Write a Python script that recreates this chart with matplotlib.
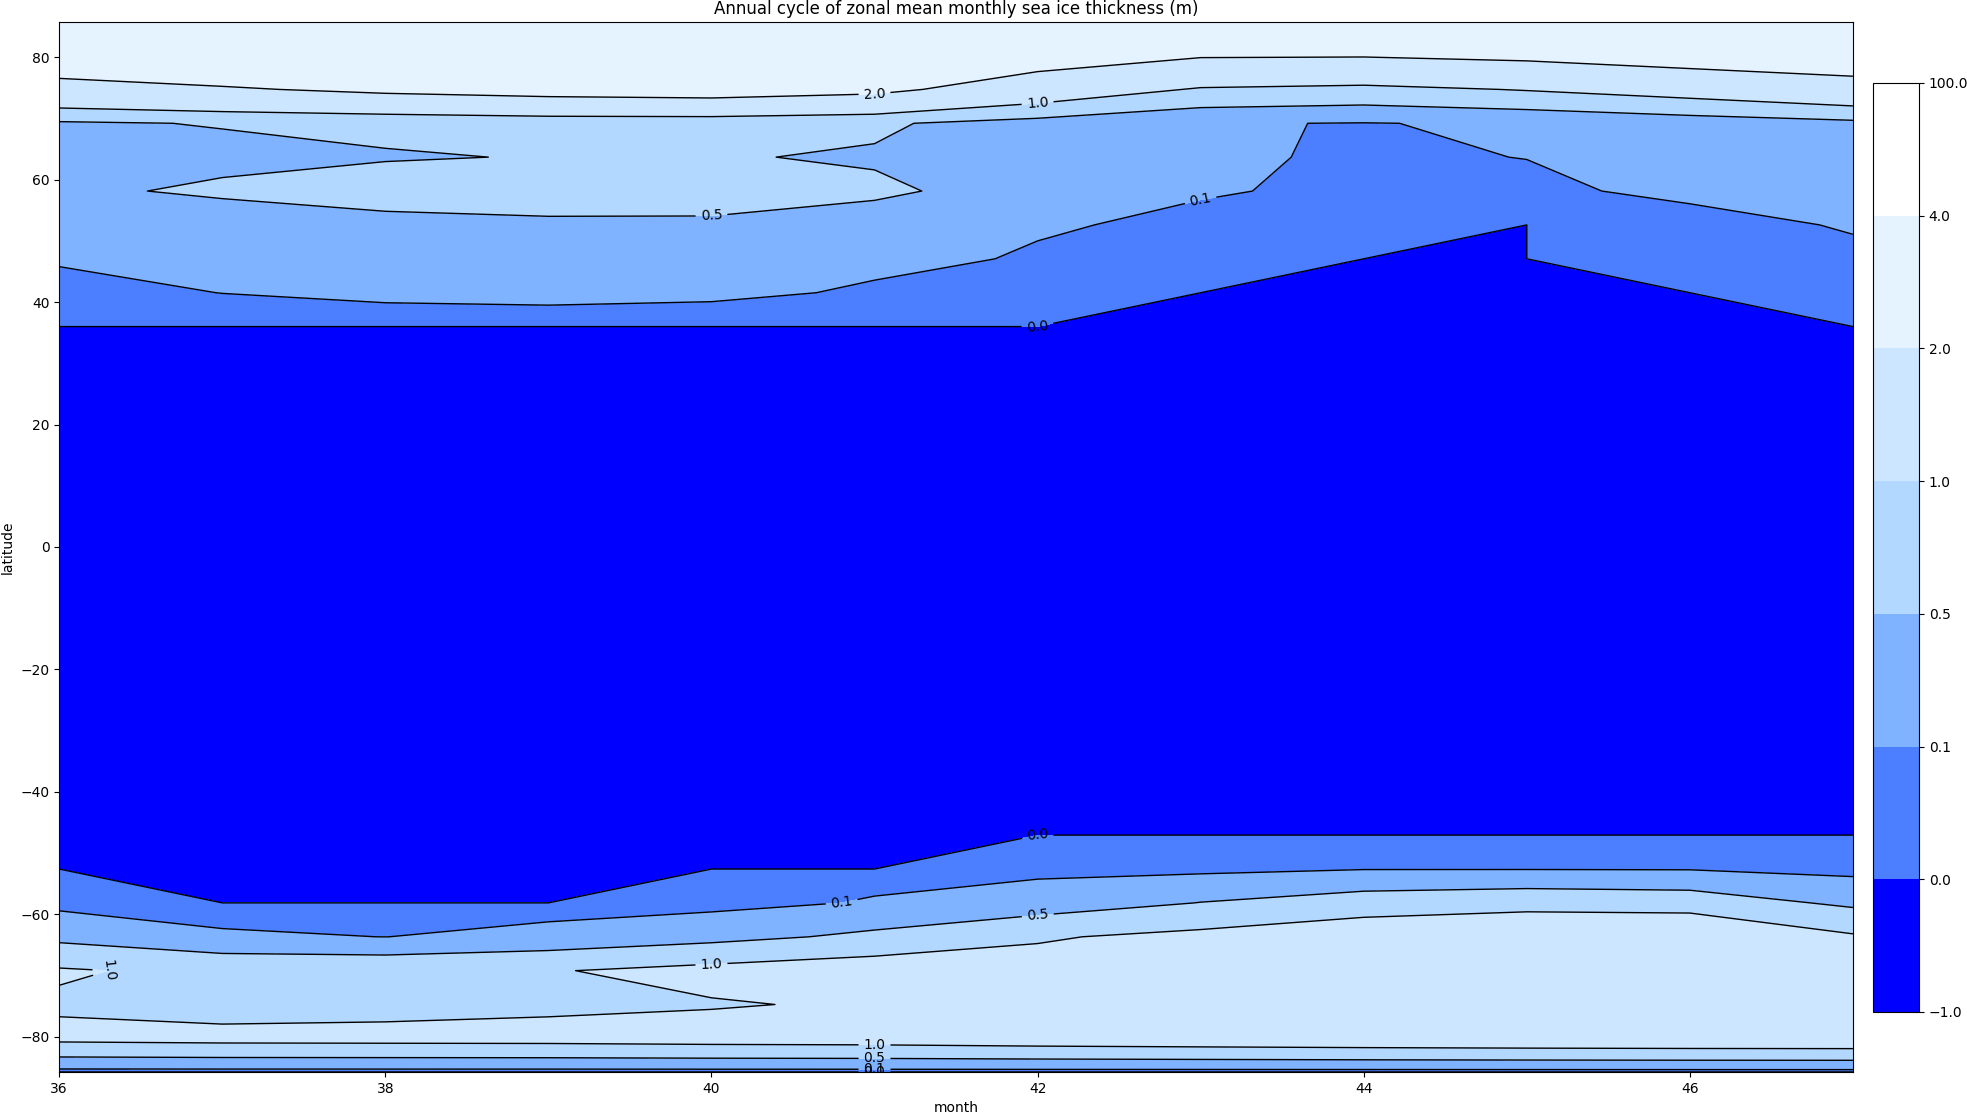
import numpy as np
import matplotlib
matplotlib.use("Agg")
import matplotlib.pyplot as plt

# months on the x axis, Gaussian (T21) latitudes on the y axis
months = [36, 37, 38, 39, 40, 41, 42, 43, 44, 45, 46, 47]
lats = [-85.76, -80.27, -74.74, -69.21, -63.68, -58.14, -52.61, -47.07,
        -41.53, -36.00, -30.46, -24.92, -19.38, -13.84, -8.31, -2.77,
        2.77, 8.31, 13.84, 19.38, 24.92, 30.46, 36.00,
        41.53, 47.07, 52.61, 58.14, 63.68, 69.21, 74.74, 80.27, 85.76]

# southern rows, from -85.76 up to -47.07 (values in m)
sh_rows = [
    [0, 0, 0, 0, 0, 0, 0, 0, 0, 0, 0, 0],
    [1.12, 1.16, 1.17, 1.18, 1.22, 1.24, 1.30, 1.34, 1.38, 1.41, 1.43, 1.44],
    [0.932, 0.78, 0.821, 0.897, 0.963, 1.058, 1.25, 1.35, 1.45, 1.5, 1.5, 1.45],
    [1.052, 0.88, 0.844, 0.97, 1.15, 1.303, 1.2, 1.3, 1.5, 1.6, 1.6, 1.4],
    [0.384, 0.132, 0.098, 0.179, 0.361, 0.593, 0.95, 1.133, 1.383, 1.559, 1.589, 1.056],
    [0.013, 0, 0, 0, 0.005, 0.125, 0.243, 0.51, 0.716, 0.8, 0.748, 0.412],
    [0, 0, 0, 0, 0, 0, 0.039, 0.032, 0.09, 0.09, 0.085, 0.01],
    [0, 0, 0, 0, 0, 0, 0, 0, 0, 0, 0, 0],
]

# ice free rows from -41.53 to 36.00
n_ice_free = 15
ice_free_row = [0, 0, 0, 0, 0, 0, 0, 0, 0, 0, 0, 0]

# northern rows, from 41.53 up to 85.76
nh_rows = [
    [0.05, 0.102, 0.142, 0.158, 0.136, 0.08, 0.04, 0, 0, 0, 0, 0.03],
    [0.115, 0.15, 0.25, 0.3, 0.28, 0.134, 0.088, 0.04, 0, 0, 0.03, 0.074],
    [0.25, 0.205, 0.393, 0.466, 0.457, 0.347, 0.1107, 0.08, 0.04, 0, 0.061, 0.11],
    [0.40, 0.585, 0.659, 0.6, 0.62, 0.558, 0.358, 0.107, 0.085, 0.08, 0.1235, 0.2],
    [0.43, 0.371, 0.476, 0.514, 0.523, 0.465, 0.35, 0.115, 0.088, 0.1015, 0.19, 0.3],
    [0.44, 0.526, 0.568, 0.642, 0.643, 0.553, 0.333, 0.121, 0.089, 0.139, 0.27, 0.396],
    [1.68, 1.9, 2.186, 2.367, 2.458, 2.225, 1.462, 0.94, 0.85, 1.03, 1.258, 1.574],
    [2.66, 3.0, 3.0, 3.1, 3.1, 3.0, 2.485, 2.068, 2.05, 2.18, 2.462, 2.666],
    [3.2, 3.3, 3.4, 3.5, 3.5, 3.4, 3.2, 3.0, 2.9, 2.8, 3.0, 3.2],
]

levels = [-1.0, 0.0, 0.1, 0.5, 1.0, 2.0, 4.0, 100.0]
fill_colors = ['#0000ff', '#4c7fff', '#7fb2ff', '#b2d8ff', '#cce6ff', '#e5f2ff', '#ffffff']

# where the contour labels sit (month, latitude)
label_spots = [(41.0, 74.0), (42.0, 72.5), (40.0, 54.1), (43.0, 56.6), (42.0, 36.0),
               (42.0, -47.1), (40.8, -58.2), (42.0, -59.9), (40.0, -68.2), (36.33, -69.5),
               (41.0, -81.3), (41.0, -83.6), (41.0, -85.2), (41.0, -85.7)]

thick = np.array(sh_rows + [ice_free_row] * n_ice_free + nh_rows, dtype=float)

fig = plt.figure(figsize=(19.67, 11.15), dpi=100)
ax = fig.add_axes([0.0301, 0.0386, 0.9119, 0.9417])
cax = fig.add_axes([0.9522, 0.0924, 0.0234, 0.8332])

cf = ax.contourf(months, lats, thick, levels=levels, colors=fill_colors)
cl = ax.contour(months, lats, thick, levels=levels, colors='k', linewidths=1)
ax.clabel(cl, fmt='%1.1f', fontsize=10, manual=label_spots)

fig.colorbar(cf, cax=cax)

ax.set_title('Annual cycle of zonal mean monthly sea ice thickness (m)')
ax.set_xlabel('month')
ax.set_ylabel('latitude')

fig.savefig('out.png', dpi=100)
